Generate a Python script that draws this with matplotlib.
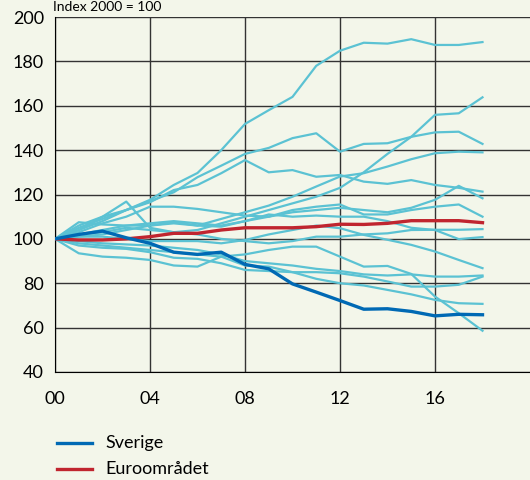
import matplotlib
matplotlib.use('Agg')
import matplotlib.pyplot as plt
import numpy as np

plt.rcParams['font.family'] = ['Lato', 'DejaVu Sans']

# år 2000-2018, index 2000 = 100
years = np.arange(2000, 2019)

sverige = [100, 102, 103.5, 100.5, 98, 94, 93, 94, 88.5, 86.5, 79.7, 76, 72.2, 68.3, 68.5, 67.3, 65.3, 66, 65.8]
euro = [100, 99.5, 99.5, 100, 101, 102.5, 102.5, 104, 105, 105, 105, 105.5, 106.6, 106.5, 107, 108.2, 108.2, 108.2, 107.3]

# enskilda euroländer (ljusblå)
land_a = [100, 104, 108, 113, 117.6, 124.3, 129.7, 140, 151.8, 158, 164, 178, 184.8, 188.4, 188, 190, 187.4, 187.4, 188.7]
land_c = [100, 105, 109, 113, 117, 121, 127.8, 133, 138.3, 141, 145.4, 147.6, 139.3, 142.8, 143.1, 146, 148, 148.3, 142.8]
land_d = [100, 106, 110, 113, 116.5, 122, 124.3, 129.6, 135.5, 130, 131, 128, 128.8, 125.8, 124.8, 126.5, 124.3, 123, 121.3]
land_e = [100, 102, 103, 105, 104, 103, 104, 107, 110, 113, 116, 119, 123, 130, 138.3, 146, 155.9, 156.6, 163.8]
land_f = [100, 101, 102, 104, 106, 107, 106, 109, 112, 115, 119, 123.6, 128.1, 129.6, 132.6, 135.9, 138.6, 139.3, 139]
land_g = [100, 102, 104, 106, 107, 108, 107, 106, 108, 110, 112, 113, 114, 113, 112, 114, 117.6, 123.9, 118.3]
land_h = [100, 103, 107, 110, 114.5, 114.5, 113.5, 112, 110.5, 110, 113, 114.5, 115.5, 111, 111, 113, 114.5, 115.5, 110]
land_i = [100, 107.5, 106.5, 106, 106, 107.5, 106, 105.5, 108, 111, 110, 110.5, 110, 110, 108, 105, 104, 99.9, 100.8]
land_j = [100, 104, 110, 116.8, 105, 103, 102, 100, 99, 98, 99, 101, 101, 102, 102.5, 104, 104.1, 104.1, 104.4]
land_k = [100, 101, 101, 100, 99, 99, 99, 98, 99.5, 102, 104, 106, 104.8, 101.8, 99.6, 97.3, 94.3, 90.5, 86.8]
land_l = [100, 99, 98, 97.5, 97, 96, 95, 93, 90, 89, 88, 86.5, 85.5, 84, 83.5, 84, 83, 83, 83.5]
land_m = [100, 97, 96, 95.5, 94, 91.5, 91, 89, 86, 85.5, 85, 85, 84.5, 83, 80.8, 78.5, 78.5, 79.3, 83]
land_n = [100, 98, 97, 96, 95, 94, 93, 92, 93, 95, 96.5, 96.5, 92, 87.5, 87.8, 84.2, 74, 66.5, 58.6]
land_o = [100, 93.5, 92, 91.5, 90.5, 88, 87.5, 92, 88, 87.5, 85, 82, 80, 79, 77, 75, 72.5, 71, 70.7]

lander = [land_a, land_c, land_d, land_e, land_f, land_g, land_h,
          land_i, land_j, land_k, land_l, land_m, land_n, land_o]

xtick_pos = [2000, 2004, 2008, 2012, 2016]
xtick_lab = ['00', '04', '08', '12', '16']

bg = '#F3F6EA'
fig = plt.figure(figsize=(5.3, 4.8), dpi=100, facecolor=bg)
ax = fig.add_axes([55 / 530, 1 - 372 / 480, 1 - 55 / 530, (372 - 17) / 480])
ax.set_facecolor(bg)

for y in lander:
    ax.plot(years, y, color='#5BC2D3', lw=1.6, zorder=2)
ax.plot(years, euro, color='#C0252F', lw=2.4, zorder=3)
ax.plot(years, sverige, color='#0069B4', lw=2.4, zorder=3)

ax.set_xlim(2000, 2020)
ax.set_ylim(40, 200)
ax.set_yticks(np.arange(40, 201, 20))
ax.set_xticks(xtick_pos)
ax.set_xticklabels(xtick_lab)
ax.tick_params(axis='y', length=0, labelsize=13, pad=8)
ax.tick_params(axis='x', length=0, labelsize=13, pad=14)
ax.grid(True, color='#333333', lw=1.0, zorder=1)
ax.spines['right'].set_visible(False)
ax.spines['top'].set_visible(False)
ax.spines['left'].set_color('black')
ax.spines['bottom'].set_color('black')

fig.text(53 / 530, 1 - 11 / 480, 'Index 2000 = 100', fontsize=10, va='baseline', ha='left')

# legend
fig.lines.append(plt.Line2D([57 / 530, 92 / 530], [1 - 443 / 480] * 2, color='#0069B4', lw=2.4, transform=fig.transFigure))
fig.lines.append(plt.Line2D([57 / 530, 92 / 530], [1 - 469 / 480] * 2, color='#C0252F', lw=2.4, transform=fig.transFigure))
fig.text(105 / 530, 1 - 443 / 480, 'Sverige', fontsize=13, va='center')
fig.text(105 / 530, 1 - 469 / 480, 'Euroområdet', fontsize=13, va='center')

plt.savefig('out.png', dpi=100, facecolor=bg)
